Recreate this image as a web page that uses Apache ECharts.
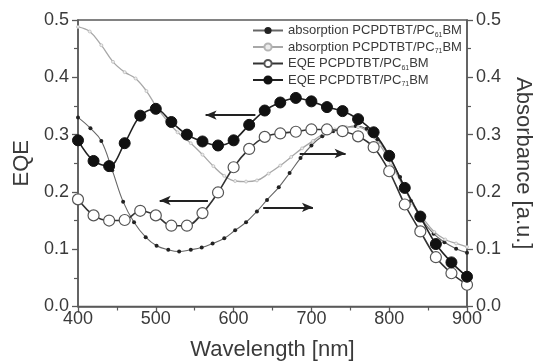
<!DOCTYPE html>
<html><head><meta charset="utf-8">
<script src="https://cdn.jsdelivr.net/npm/echarts@6/dist/echarts.min.js"></script>
<style>html,body{margin:0;padding:0;background:#fff}#c{width:533px;height:362px}</style>
</head><body><div id="c"></div>
<script>
// EQE curves (left axis), wavelengths in nm
const eqeWl = [400,420,440,460,480,500,520,540,560,580,600,620,640,660,680,700,720,740,760,780,800,820,840,860,880,900];
const eqe61 = [0.187,0.159,0.150,0.151,0.167,0.159,0.141,0.141,0.163,0.199,0.243,0.275,0.296,0.302,0.305,0.309,0.309,0.306,0.297,0.278,0.236,0.178,0.131,0.086,0.058,0.038];
const eqe71 = [0.290,0.254,0.245,0.285,0.333,0.345,0.322,0.300,0.288,0.281,0.290,0.317,0.342,0.356,0.364,0.358,0.348,0.341,0.327,0.304,0.263,0.207,0.157,0.109,0.077,0.052];
// Absorption curves (right axis)
const abs61Wl = [400,416,430,444,458,472,487,501,516,530,545,559,573,588,602,616,630,643,658,672,686,700,714,728,743,757,771,785,800,814,828,843,857,871,886,900];
const abs61 = [0.330,0.311,0.289,0.238,0.183,0.147,0.121,0.106,0.099,0.096,0.099,0.103,0.110,0.119,0.133,0.147,0.166,0.186,0.208,0.233,0.259,0.281,0.297,0.306,0.312,0.315,0.310,0.292,0.261,0.226,0.184,0.150,0.127,0.112,0.101,0.094];
const abs71Wl = [400,415,430,445,460,474,488,500,514,528,545,560,574,588,602,616,630,645,660,674,688,702,716,730,745,760,774,788,802,816,830,844,858,872,886,900];
const abs71 = [0.488,0.480,0.456,0.427,0.409,0.398,0.376,0.350,0.325,0.304,0.285,0.265,0.245,0.228,0.219,0.218,0.220,0.232,0.246,0.261,0.276,0.289,0.302,0.309,0.313,0.313,0.303,0.282,0.250,0.215,0.180,0.153,0.130,0.117,0.110,0.104];
// Arrows: [from wavelength, to wavelength, value, head at 'start'|'end']
const arrows = [[564,628,0.334,'start'],[505,567,0.185,'start'],[685,744,0.267,'end'],[638,702,0.173,'end']];
const xTicks = {min:400, max:900, interval:100};
const yTicks = {min:0, max:0.5, interval:0.1};

const names = ['absorption PCPDTBT/PC61BM','absorption PCPDTBT/PC71BM','EQE PCPDTBT/PC61BM','EQE PCPDTBT/PC71BM'];
const zip = (a,b)=>a.map((v,i)=>[v,b[i]]);
const FONT = '"Liberation Sans", Arial, sans-serif';
const TXT = '#3a3a3a';
const AX = '#5a5a5a';

const arrowLines = arrows.map(a => [
  {coord:[a[0],a[2]], symbol: a[3]==='start'?'arrow':'none', symbolSize:[7,11]},
  {coord:[a[1],a[2]], symbol: a[3]==='end'?'arrow':'none', symbolSize:[7,11]}
]);

const chart = echarts.init(document.getElementById('c'), null, {renderer:'canvas'});
const yCommon = {
  type:'value', min:yTicks.min, max:yTicks.max, interval:yTicks.interval,
  axisLine:{show:true, lineStyle:{color:AX, width:1.5}},
  axisTick:{show:true, inside:false, length:6, lineStyle:{color:AX, width:1.3}},
  minorTick:{show:true, splitNumber:2, length:4, lineStyle:{color:AX, width:1.2}},
  splitLine:{show:false},
  axisLabel:{color:TXT, fontSize:18, fontFamily:FONT, margin:9, formatter:v=>v.toFixed(1)},
  nameLocation:'middle',
  nameTextStyle:{color:TXT, fontSize:22, fontFamily:FONT}
};
chart.setOption({
  animation:false,
  backgroundColor:'#fff',
  grid:{left:78, right:66, top:20, bottom:55.5, outerBoundsMode:'none', containLabel:false, show:true, borderColor:AX, borderWidth:1.5, backgroundColor:'transparent'},
  legend:{
    data:names, orient:'vertical', left:247, top:19, itemWidth:30, itemHeight:9, itemGap:2,
    textStyle:{color:TXT, fontFamily:FONT, fontSize:13,
      rich:{t:{fontSize:13, fontFamily:FONT, color:TXT}, s:{fontSize:7, fontFamily:FONT, color:TXT, padding:[9,0,0,0]}}},
    formatter:function(n){
      const m = n.match(/^(.*PC)(\d\d)(BM)$/);
      return '{t|'+m[1]+'}{s|'+m[2]+'}{t|'+m[3]+'}';
    }
  },
  xAxis:{
    type:'value', min:xTicks.min, max:xTicks.max, interval:xTicks.interval,
    name:'Wavelength [nm]', nameLocation:'middle', nameGap:32,
    nameTextStyle:{color:TXT, fontSize:22, fontFamily:FONT},
    axisLine:{show:true, onZero:false, lineStyle:{color:AX, width:1.5}},
    axisTick:{show:true, length:6, lineStyle:{color:AX, width:1.3}},
    minorTick:{show:true, splitNumber:2, length:4, lineStyle:{color:AX, width:1.2}},
    splitLine:{show:false},
    axisLabel:{color:TXT, fontSize:18, fontFamily:FONT, margin:4}
  },
  yAxis:[
    Object.assign({}, yCommon, {position:'left', name:'EQE', nameGap:42}),
    Object.assign({}, yCommon, {position:'right', name:'Absorbance [a.u.]', nameGap:44, nameRotate:-90})
  ],
  series:[
    {name:names[0], type:'line', yAxisIndex:1, data:zip(abs61Wl,abs61), smooth:0.4,
     symbol:'circle', symbolSize:4, itemStyle:{color:'#222'}, lineStyle:{color:'#666', width:1.1}, z:2},
    {name:names[1], type:'line', yAxisIndex:1, data:zip(abs71Wl,abs71), smooth:0.4,
     symbol:'circle', symbolSize:3, itemStyle:{color:'#ececec', borderColor:'#b4b4b4', borderWidth:0.7}, lineStyle:{color:'#a8a8a8', width:1.3}, z:2},
    {name:names[2], type:'line', yAxisIndex:0, data:zip(eqeWl,eqe61), smooth:0.35,
     symbol:'circle', symbolSize:11, itemStyle:{color:'#fff', borderColor:'#555', borderWidth:1.2}, lineStyle:{color:'#333', width:1.6}, z:3},
    {name:names[3], type:'line', yAxisIndex:0, data:zip(eqeWl,eqe71), smooth:0.35,
     symbol:'circle', symbolSize:11, itemStyle:{color:'#111', borderColor:'#111', borderWidth:1}, lineStyle:{color:'#222', width:1.6}, z:4,
     markLine:{silent:true, animation:false, label:{show:false}, lineStyle:{color:'#222', width:2, type:'solid'}, data:arrowLines}}
  ]
});
</script></body></html>
